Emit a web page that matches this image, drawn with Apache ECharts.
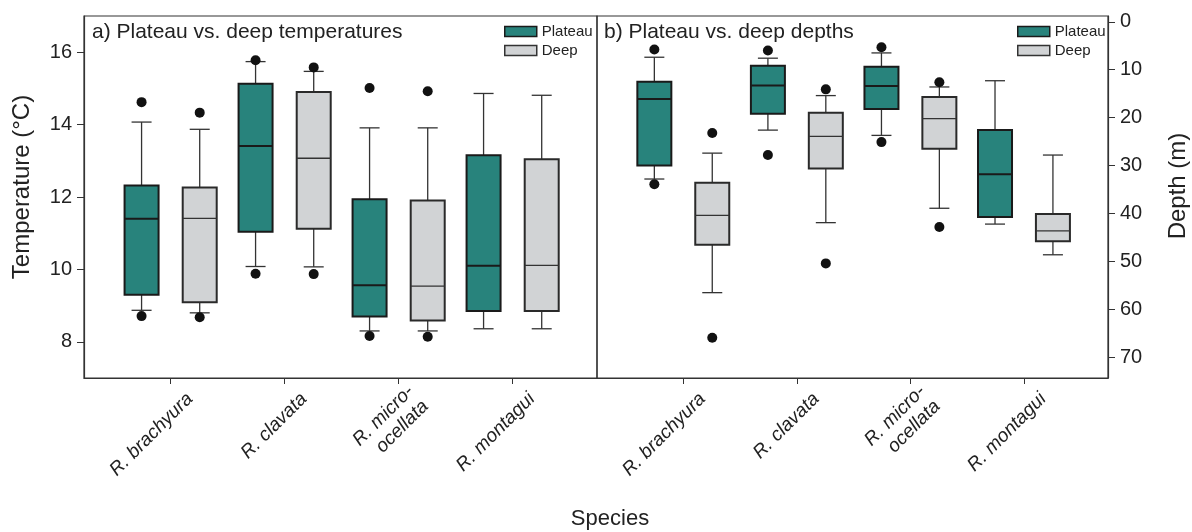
<!DOCTYPE html>
<html>
<head>
<meta charset="utf-8">
<script src="https://cdn.jsdelivr.net/npm/echarts@6/dist/echarts.min.js"></script>
<style>
  html, body { margin: 0; padding: 0; background: #fff; }
  #chart { width: 1192px; height: 532px; }
</style>
</head>
<body>
<div id="chart"></div>
<script>
// species on the x axis (index 0..3)
const species = ['R. brachyura', 'R. clavata', 'R. micro-\nocellata', 'R. montagui'];

// box stats per species: [lower whisker, Q1, median, Q3, upper whisker]
const tempPlateau = [[8.87, 9.30, 11.40, 12.32, 14.07], [10.08, 11.04, 13.41, 15.13, 15.74], [8.30, 8.70, 9.56, 11.94, 13.91], [8.36, 8.85, 10.10, 13.15, 14.86]];
const tempDeep = [[8.80, 9.09, 11.41, 12.26, 13.87], [10.07, 11.12, 13.07, 14.90, 15.47], [8.30, 8.59, 9.54, 11.90, 13.91], [8.36, 8.85, 10.11, 13.04, 14.81]];
const depthPlateau = [[7.4, 12.5, 16.1, 30.0, 32.8], [7.6, 9.2, 13.3, 19.2, 22.6], [6.5, 9.4, 13.4, 18.2, 23.7], [12.3, 22.6, 31.8, 40.7, 42.2]];
const depthDeep = [[27.4, 33.6, 40.4, 46.5, 56.5], [15.4, 19.0, 23.9, 30.6, 41.9], [13.6, 15.7, 20.2, 26.5, 38.9], [27.8, 40.1, 43.6, 45.8, 48.6]];

// outliers: [species index, value]
const tempPlateauOut = [[0, 14.62], [0, 8.71], [1, 15.78], [1, 9.88], [2, 15.01], [2, 8.16]];
const tempDeepOut = [[0, 14.33], [0, 8.68], [1, 15.58], [1, 9.87], [2, 14.92], [2, 8.14]];
const depthPlateauOut = [[0, 5.8], [0, 33.9], [1, 6.0], [1, 27.8], [2, 5.3], [2, 25.1]];
const depthDeepOut = [[0, 23.2], [0, 65.9], [1, 14.1], [1, 50.4], [2, 12.6], [2, 42.8]];

// axis ticks
const tempTicks = [8, 10, 12, 14, 16];
const depthTicks = [0, 10, 20, 30, 40, 50, 60, 70];
const speciesTicks = [0, 1, 2, 3];

const TEAL = '#28837c';
const GREY = '#d1d3d5';
const INK = '#222';
const FONT = '"Liberation Sans", Arial, Helvetica, sans-serif';
const OFF = 0.255; // half distance between the two boxes of one species

const chart = echarts.init(document.getElementById('chart'));

function boxRenderer(offset, fill, border, medColor, medWidth) {
    return function (params, api) {
        const x = api.value(0) + offset;
        const p = [1, 2, 3, 4, 5].map(i => api.coord([x, api.value(i)]));
        const cx = p[0][0];
        const hw = 17, cw = 10;
        const wl = { stroke: '#333', lineWidth: 1.3 };
        const top = Math.min(p[1][1], p[3][1]);
        const h = Math.abs(p[3][1] - p[1][1]);
        return {
            type: 'group',
            children: [
                { type: 'line', shape: { x1: cx, y1: p[0][1], x2: cx, y2: p[1][1] }, style: wl },
                { type: 'line', shape: { x1: cx, y1: p[3][1], x2: cx, y2: p[4][1] }, style: wl },
                { type: 'line', shape: { x1: cx - cw, y1: p[0][1], x2: cx + cw, y2: p[0][1] }, style: wl },
                { type: 'line', shape: { x1: cx - cw, y1: p[4][1], x2: cx + cw, y2: p[4][1] }, style: wl },
                { type: 'rect', shape: { x: cx - hw, y: top, width: hw * 2, height: h },
                  style: { fill: fill, stroke: border, lineWidth: 2 } },
                { type: 'line', shape: { x1: cx - hw, y1: p[2][1], x2: cx + hw, y2: p[2][1] },
                  style: { stroke: medColor, lineWidth: medWidth } }
            ]
        };
    };
}

function boxSeries(name, idx, stats, offset, fill, border, medColor, medWidth) {
    return {
        name: name,
        type: 'custom',
        xAxisIndex: idx,
        yAxisIndex: idx,
        renderItem: boxRenderer(offset, fill, border, medColor, medWidth),
        itemStyle: { color: fill, borderColor: border },
        encode: { x: 0, y: [1, 2, 3, 4, 5] },
        data: stats.map((s, i) => [i].concat(s)),
        z: 2
    };
}

function outlierSeries(name, idx, pts, offset) {
    return {
        name: name,
        type: 'scatter',
        xAxisIndex: idx,
        yAxisIndex: idx,
        symbolSize: 10,
        itemStyle: { color: '#111', opacity: 1 },
        data: pts.map(p => [p[0] + offset, p[1]]),
        z: 3
    };
}

function xAxis(idx) {
    return {
        type: 'value',
        gridIndex: idx,
        min: -0.76,
        max: 3.74,
        splitLine: { show: false },
        axisLine: { show: true, onZero: false, lineStyle: { color: '#333', width: 1.2 } },
        axisTick: { show: true, length: 6, lineStyle: { color: '#333' }, customValues: speciesTicks },
        axisLabel: {
            show: true,
            customValues: speciesTicks.map(v => v + 0.17),
            formatter: v => species[Math.round(v - 0.17)],
            rotate: 45,
            margin: 18,
            fontSize: 19,
            fontStyle: 'italic',
            fontFamily: FONT,
            color: INK,
            lineHeight: 21
        }
    };
}

function yAxis(idx, min, max, ticks, pos, inverse) {
    return {
        type: 'value',
        gridIndex: idx,
        min: min,
        max: max,
        inverse: inverse,
        position: pos,
        splitLine: { show: false },
        axisLine: { show: true, onZero: false, lineStyle: { color: '#333', width: 1.2 } },
        axisTick: { show: true, length: 7, lineStyle: { color: '#333' }, customValues: ticks },
        axisLabel: { customValues: ticks, fontSize: 20, color: INK, margin: 12, fontFamily: FONT }
    };
}

function legend(left) {
    return {
        left: left,
        top: 19,
        orient: 'vertical',
        itemWidth: 32,
        itemHeight: 10,
        itemGap: 4,
        selectedMode: false,
        textStyle: { fontSize: 15, fontFamily: FONT, color: INK },
        data: [
            { name: 'Plateau', icon: 'rect', itemStyle: { color: TEAL, borderColor: '#1a1a1a', borderWidth: 1.5 } },
            { name: 'Deep', icon: 'rect', itemStyle: { color: GREY, borderColor: '#333', borderWidth: 1.5 } }
        ]
    };
}

chart.setOption({
    animation: false,
    backgroundColor: '#fff',
    textStyle: { fontFamily: FONT },
    legend: [legend(499), legend(1012)],
    grid: [
        { left: 84, right: 1192 - 597, top: 16, bottom: 532 - 378, show: true, borderColor: '#333', borderWidth: 1.2 },
        { left: 597, right: 1192 - 1108, top: 16, bottom: 532 - 378, show: true, borderColor: '#333', borderWidth: 1.2 }
    ],
    xAxis: [xAxis(0), xAxis(1)],
    yAxis: [
        yAxis(0, 7, 17, tempTicks, 'left', false),
        yAxis(1, -1.2, 74.3, depthTicks, 'right', true)
    ],
    graphic: [
        { type: 'text', left: 92, top: 22, style: { text: 'a) Plateau vs. deep temperatures', fontSize: 21, fill: INK, fontFamily: FONT } },
        { type: 'text', left: 604, top: 22, style: { text: 'b) Plateau vs. deep depths', fontSize: 21, fill: INK, fontFamily: FONT } },
        { type: 'text', x: 22, y: 187, rotation: Math.PI / 2, style: { text: 'Temperature (°C)', fontSize: 24, fill: INK, fontFamily: FONT, align: 'center', verticalAlign: 'middle' } },
        { type: 'text', x: 1178, y: 186, rotation: Math.PI / 2, style: { text: 'Depth (m)', fontSize: 24, fill: INK, fontFamily: FONT, align: 'center', verticalAlign: 'middle' } },
        { type: 'text', x: 610, y: 519, style: { text: 'Species', fontSize: 22, fill: INK, fontFamily: FONT, align: 'center', verticalAlign: 'middle' } }
    ],
    series: [
        boxSeries('Plateau', 0, tempPlateau, -OFF, TEAL, '#1a1a1a', '#1a1a1a', 2),
        boxSeries('Deep', 0, tempDeep, OFF, GREY, '#2a2a2a', '#333', 1.3),
        outlierSeries('Plateau outliers', 0, tempPlateauOut, -OFF),
        outlierSeries('Deep outliers', 0, tempDeepOut, OFF),
        boxSeries('Plateau', 1, depthPlateau, -OFF, TEAL, '#1a1a1a', '#1a1a1a', 2),
        boxSeries('Deep', 1, depthDeep, OFF, GREY, '#2a2a2a', '#333', 1.3),
        outlierSeries('Plateau outliers', 1, depthPlateauOut, -OFF),
        outlierSeries('Deep outliers', 1, depthDeepOut, OFF)
    ]
});
</script>
</body>
</html>
